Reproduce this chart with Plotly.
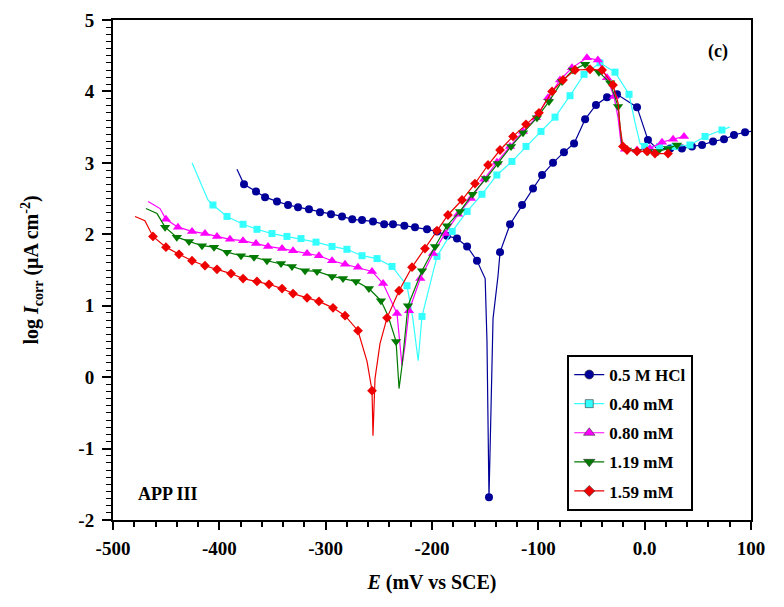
import plotly.graph_objects as go

# ---------------- data (E in mV vs SCE, log I in uA cm^-2) ----------------
names = ["0.5 M HCl", "0.40 mM", "0.80 mM", "1.19 mM", "1.59 mM"]

E_hcl = [-383.4, -376.8, -365.5, -357, -345.8, -335.4, -326, -315.7, -305.3, -295, -284.6, -275,
         -265.8, -255.5, -245, -236.7, -226, -216, -204.7, -195.3, -185.9, -176.5, -167, -157.7,
         -150, -148.3, -147.3, -146.4, -144.5, -142.6, -137.9, -136, -126.6, -115.3, -105, -96.5,
         -86.2, -75.9, -66.4, -56, -45.8, -35.4, -26, -7.2, 3.1, 11.6, 24, 35, 44.5, 54, 64.3,
         74.6, 84, 94.4, 100]
I_hcl = [2.91, 2.70, 2.60, 2.52, 2.46, 2.41, 2.38, 2.35, 2.31, 2.28, 2.25, 2.21,
         2.20, 2.18, 2.14, 2.14, 2.12, 2.10, 2.07, 2.04, 1.98, 1.94, 1.83, 1.63,
         1.38, 0.51, -0.96, -1.68, -0.44, 0.82, 1.42, 1.75, 2.14, 2.41, 2.64, 2.83,
         3.00, 3.15, 3.27, 3.61, 3.81, 3.92, 3.96, 3.78, 3.32, 3.20, 3.20, 3.20, 3.23, 3.25, 3.30,
         3.33, 3.39, 3.43, 3.44]
nomark_hcl = [0, 24, 25, 26, 28, 29, 30, 45, 54]

E_040 = [-425.7, -410.7, -406, -392.8, -377.7, -364.6, -350.5, -336.4, -323.2, -309.1, -294, -280,
         -265.8, -251.7, -237.6, -223.5, -218, -213, -209.4, -195.3, -181, -167, -153, -139,
         -124.8, -111.6, -97.5, -84.3, -70.2, -57, -42, -27.9, -14.7, -9, -4.3, 0, 14, 28.5,
         42.6, 56.8, 72.7, 80]
I_040 = [3.00, 2.48, 2.41, 2.25, 2.14, 2.07, 2.01, 1.97, 1.94, 1.89, 1.83, 1.79,
         1.70, 1.66, 1.55, 1.28, 0.82, 0.23, 0.85, 1.69, 2.04, 2.32, 2.56, 2.83,
         3.02, 3.23, 3.44, 3.64, 3.94, 4.24, 4.40, 4.27, 3.96, 3.56, 3.27, 3.23, 3.23, 3.23,
         3.25, 3.37, 3.46, 3.50]
nomark_040 = [0, 1, 16, 17, 33, 34, 41]

E_080 = [-467, -455.8, -450.2, -438.9, -425.7, -413.5, -402.2, -390, -377.7, -365.5, -354.2, -341,
         -330.7, -317.5, -306.3, -294, -281.8, -269.6, -256.4, -246, -232.9, -228.2, -225.4, -221.6,
         -211, -199, -187.8, -175.5, -163.3, -151, -138.9, -126.6, -114.4, -102.2, -90.9, -79.6,
         -68.4, -54.3, -44, -35.4, -28.8, -25, -22.2, -18.5, -7.2, 5, 16.3, 26.7, 37]
I_080 = [2.46, 2.36, 2.21, 2.10, 2.04, 2.01, 1.97, 1.93, 1.91, 1.87, 1.83, 1.80,
         1.77, 1.73, 1.70, 1.63, 1.58, 1.54, 1.48, 1.31, 0.89, 0.16, 0.44, 0.93,
         1.38, 1.73, 2.01, 2.28, 2.50, 2.77, 3.01, 3.23, 3.44, 3.63, 3.91, 4.16,
         4.33, 4.47, 4.44, 4.19, 3.93, 3.63, 3.27, 3.19, 3.18, 3.20, 3.29, 3.33, 3.37]
nomark_080 = [0, 1, 21, 22, 41, 42]

E_119 = [-469, -458.6, -451, -440, -428.5, -416.3, -405, -392.8, -379.6, -367.4, -355.2, -342,
         -331.7, -319.4, -308.1, -294, -283.7, -271.5, -259.3, -248, -241.4, -233.8, -231, -228.2,
         -222.6, -209.4, -197.2, -185.9, -173.7, -162, -149.2, -138, -125.7, -114.4, -101.3, -90,
         -77.7, -67.4, -56, -43, -32.5, -25, -21.3, -16.6, -7.2, 3.1, 12.5, 22, 30.4]
I_119 = [2.36, 2.29, 2.10, 1.96, 1.90, 1.84, 1.82, 1.75, 1.70, 1.68, 1.63, 1.59,
         1.55, 1.49, 1.48, 1.41, 1.38, 1.34, 1.24, 1.07, 0.86, 0.50, -0.16, 0.16,
         1.00, 1.49, 1.83, 2.12, 2.32, 2.56, 2.78, 2.99, 3.23, 3.42, 3.63, 3.86,
         4.14, 4.30, 4.38, 4.27, 4.12, 3.79, 3.23, 3.18, 3.16, 3.16, 3.16, 3.20, 3.25]
nomark_119 = [0, 1, 20, 22, 23, 42]

E_159 = [-479.3, -470, -462.4, -450.2, -437.9, -425.7, -413.5, -402.2, -389, -377.7, -364.6, -353.3,
         -341, -330.7, -317.5, -306.3, -293.1, -281.8, -269.6, -261.1, -256.4, -255.5, -253.6, -248.9,
         -242.3, -231, -218.8, -206.6, -195.3, -185, -171.8, -159.6, -147.3, -136, -123.8, -111.6,
         -99.4, -87.1, -76.8, -65.5, -51.4, -40, -29.8, -25, -23.2, -20.4, -16.6, -7.2, 2.2, 9.7, 22]
I_159 = [2.25, 2.19, 1.97, 1.82, 1.72, 1.63, 1.56, 1.51, 1.45, 1.38, 1.34, 1.30,
         1.24, 1.17, 1.11, 1.06, 0.97, 0.86, 0.65, 0.22, -0.19, -0.82, -0.02, 0.47,
         0.83, 1.21, 1.54, 1.80, 2.05, 2.27, 2.48, 2.71, 2.97, 3.18, 3.37, 3.54,
         3.70, 4.00, 4.16, 4.30, 4.31, 4.30, 4.09, 3.84, 3.51, 3.23, 3.18, 3.16, 3.16, 3.13, 3.13]
nomark_159 = [0, 1, 19, 21, 22, 23, 43, 44]

# tick label texts (hyphen minus, "0.0" at zero as in the reference)
x_labels = {"−500": "-500", "−400": "-400", "−300": "-300", "−200": "-200",
            "−100": "-100", "0": "0.0"}
y_labels = {"−1": "-1", "−2": "-2"}

# ---------------- styles ----------------
series = [
    (E_hcl, I_hcl, nomark_hcl, "#000099", "circle", 8),
    (E_040, I_040, nomark_040, "#33FFFF", "square", 7),
    (E_080, I_080, nomark_080, "#FF00FF", "triangle-up", 9),
    (E_119, I_119, nomark_119, "#007A00", "triangle-down", 9),
    (E_159, I_159, nomark_159, "#EE0000", "diamond", 7.5),
]

FONT = "Liberation Serif"
fig = go.Figure()

for name, (xs, ys, nm, col, sym, ms) in zip(names, series):
    fig.add_trace(go.Scatter(x=xs, y=ys, mode="lines", line=dict(color=col, width=1.2),
                             showlegend=False, hoverinfo="skip"))
    mx = [x for i, x in enumerate(xs) if i not in nm]
    my = [y for i, y in enumerate(ys) if i not in nm]
    fig.add_trace(go.Scatter(x=mx, y=my, mode="markers",
                             marker=dict(color=col, symbol=sym, size=ms, line=dict(width=0)),
                             showlegend=False))
    fig.add_trace(go.Scatter(x=[None], y=[None], mode="lines+markers", name=name,
                             legendgroup=name,
                             line=dict(color=col, width=1.2),
                             marker=dict(color=col, symbol=sym, size=ms + 1,
                                         line=dict(color="#333333", width=0.6))))

# the page body has an 8px margin, so the figure is made 8px smaller
fig.update_layout(
    width=776, height=599,
    margin=dict(l=105, r=33, t=12, b=87),
    paper_bgcolor="white", plot_bgcolor="white",
    font=dict(family=FONT, color="black", size=19),
    showlegend=True,
    legend=dict(x=0.712, y=0.33, xanchor="left", yanchor="top",
                bordercolor="black", borderwidth=2, bgcolor="white",
                font=dict(family=FONT, size=17, color="black", weight="bold"),
                tracegroupgap=4, itemwidth=30, entrywidth=122),
    xaxis=dict(range=[-500, 100], tickmode="linear", tick0=-500, dtick=100,
               labelalias=x_labels,
               ticks="outside", ticklen=8, tickwidth=2, tickcolor="black",
               showline=True, linewidth=2, linecolor="black", mirror=True,
               showgrid=False, zeroline=False, automargin=False, ticklabelstandoff=2,
               minor=dict(dtick=20, ticks="outside", ticklen=5,
                          tickwidth=1.5, tickcolor="black", showgrid=False),
               tickfont=dict(family=FONT, size=19, weight="bold"),
               title=dict(text="<b><i>E</i> (mV vs SCE)</b>", font=dict(family=FONT, size=20),
                          standoff=17)),
    yaxis=dict(range=[-2, 5], tickmode="linear", tick0=0, dtick=1,
               labelalias=y_labels,
               ticks="outside", ticklen=9, tickwidth=2, tickcolor="black",
               showline=True, linewidth=2, linecolor="black", mirror=True,
               showgrid=False, zeroline=False, automargin=False, ticklabelstandoff=4,
               minor=dict(dtick=0.1, ticks="outside", ticklen=5,
                          tickwidth=1.2, tickcolor="black", showgrid=False),
               tickfont=dict(family=FONT, size=19, weight="bold"),
               title=dict(text="<b>log <i>I</i><sub>corr</sub> (μA cm<sup>-2</sup>)</b>",
                          font=dict(family=FONT, size=20), standoff=34)),
    annotations=[
        dict(text="<b>(c)</b>", x=0.948, y=0.936, xref="paper", yref="paper",
             xanchor="center", yanchor="middle",
             showarrow=False, font=dict(family=FONT, size=18, color="black")),
        dict(text="<b>APP III</b>", x=0.086, y=0.052, xref="paper", yref="paper",
             xanchor="center", yanchor="middle",
             showarrow=False, font=dict(family=FONT, size=18, color="black")),
    ],
)

fig.write_html("out.html")
